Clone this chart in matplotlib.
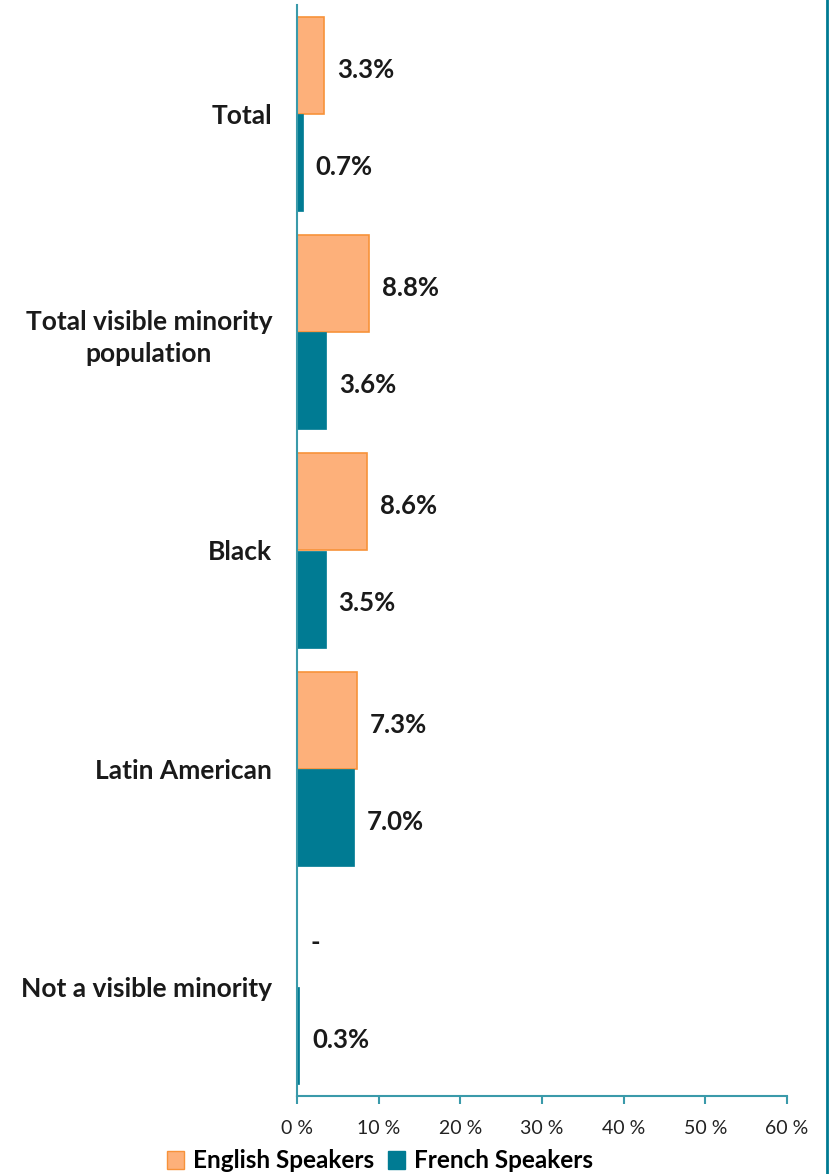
import matplotlib
matplotlib.use("Agg")
import matplotlib.pyplot as plt
from matplotlib.lines import Line2D
from matplotlib.patches import Patch
import numpy as np

categories = ["Total", "Total visible minority\npopulation", "Black", "Latin American", "Not a visible minority"]
english = [3.3, 8.8, 8.6, 7.3, 0.0]
french = [0.7, 3.6, 3.5, 7.0, 0.3]
english_labels = ["3.3%", "8.8%", "8.6%", "7.3%", "-"]
french_labels = ["0.7%", "3.6%", "3.5%", "7.0%", "0.3%"]
xticks = [0, 10, 20, 30, 40, 50, 60]
xtick_labels = ["0 %", "10 %", "20 %", "30 %", "40 %", "50 %", "60 %"]

plt.rcParams['font.family'] = ['Lato', 'DejaVu Sans']
teal = "#007B93"
spine = "#3A9AAA"
orange_face = "#FDB07A"
orange_edge = "#F7923A"
txt = "#1a1a1a"

fig = plt.figure(figsize=(8.34, 11.74), dpi=100)
ax = fig.add_axes([297/834, 1 - 1096/1174, (787-297)/834, (1096-5)/1174])

y = np.arange(len(categories))
h = 0.445
ax.barh(y - h/2, english, height=h, color=orange_face, edgecolor=orange_edge, linewidth=1.2, label="English Speakers")
ax.barh(y + h/2, french, height=h, color=teal, edgecolor=teal, linewidth=0.5, label="French Speakers")

for i in range(len(categories)):
    ax.text(english[i] + 1.6, y[i] - h/2 + 0.02, english_labels[i], va="center", ha="left",
            fontsize=18.5, fontweight="bold", color=txt)
    ax.text(french[i] + 1.6, y[i] + h/2 + 0.02, french_labels[i], va="center", ha="left",
            fontsize=18.5, fontweight="bold", color=txt)

ax.set_ylim(len(categories) - 0.5, -0.5)
ax.set_xlim(0, 60)
ax.set_yticks(y)
ax.set_yticklabels(categories, fontsize=19, fontweight="bold", color=txt, ha="right",
                   multialignment="center", linespacing=1.4)
ax.tick_params(axis="y", length=0, pad=18)
ax.set_xticks(xticks)
ax.set_xticklabels(xtick_labels, fontsize=14, color="#222222")
ax.tick_params(axis="x", direction="out", length=6, width=1.5, color=spine, pad=11)
for s in ["top", "right"]:
    ax.spines[s].set_visible(False)
for s in ["left", "bottom"]:
    ax.spines[s].set_color(spine)
    ax.spines[s].set_linewidth(1.5)

handles = [Patch(facecolor=orange_face, edgecolor=orange_edge, label="English Speakers"),
           Patch(facecolor=teal, edgecolor=teal, label="French Speakers")]
fig.legend(handles=handles, loc="center", bbox_to_anchor=(380/834, 1 - 1161/1174), ncol=2,
           frameon=False, prop={"weight": "bold", "size": 17.5},
           handlelength=0.7, handleheight=0.7, handletextpad=0.35, columnspacing=0.6,
           borderpad=0.1)

fig.add_artist(Line2D([826.5/834, 826.5/834], [0, 1], color=teal, linewidth=2, transform=fig.transFigure))

fig.savefig("out.png", dpi=100)
